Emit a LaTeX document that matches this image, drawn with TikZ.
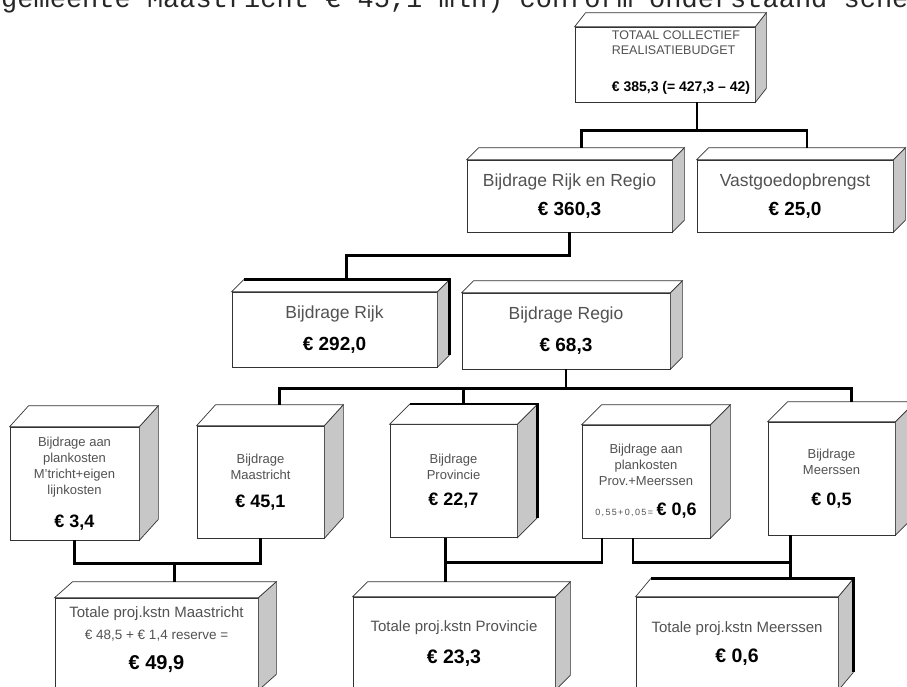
\documentclass[tikz,border=0pt]{standalone}
\usepackage{fontspec}
\setmainfont{Liberation Sans}
\newfontfamily\typemachine{Liberation Mono}
\usetikzlibrary{calc}

\definecolor{zijvlak}{gray}{0.78}
\definecolor{tekstgrijs}{gray}{0.32}

\tikzset{
    rand/.style={draw=black!80, line width=0.7pt},
    blok/.style={rand, fill=white, inner sep=0pt, align=center, text=tekstgrijs},
    rij1/.style={blok, font=\fontsize{17.5}{20}\selectfont},
    rij2/.style={blok, font=\fontsize{13}{16}\selectfont},
    rij3/.style={blok, font=\fontsize{15}{18}\selectfont},
    lijn/.style={line width=2.6pt, black}
}

\newcommand{\waarde}[2][19]{{\color{black}\fontsize{#1}{#1}\selectfont\bfseries #2}}

% top and side face of a box, plus the middle of its back edge
\newcommand{\kubus}[3]{%
    \draw[rand, fill=zijvlak] (#1.north east) -- ++(#2,#3) -- ($(#1.south east)+(#2,#3)$) -- (#1.south east) -- cycle;
    \draw[rand, fill=white] (#1.north west) -- ++(#2,#3) -- ($(#1.north east)+(#2,#3)$) -- (#1.north east) -- cycle;
    \coordinate (#1-top) at ($(#1.north)+(#2,#3)$);
}
\newcommand{\dikrand}[3]{%
    \draw[lijn] ($(#1.north west)+(#2,#3)$) -- ($(#1.north east)+(#2,#3)$) -- ($(#1.south east)+(#2,#3)$);
}

\begin{document}
\begin{tikzpicture}[x=1pt, y=-1pt]
    \useasboundingbox (0,0) rectangle (907,686);

    \node[anchor=base west, inner sep=0pt, font=\typemachine\fontsize{27}{30}\selectfont, text=black!85] (kop) at (1,7) {gemeente Maastricht € 45,1 mln) conform onderstaand sche};

    \node[blok, minimum width=180pt, minimum height=75pt] (totaal) at (665,64.5) {};
    \kubus{totaal}{11}{-14}
    \node[anchor=north west, align=left, inner sep=0pt, text=tekstgrijs, font=\fontsize{12.5}{15}\selectfont] (totaaltekst) at ($(totaal.north west)+(37,4)$) {TOTAAL COLLECTIEF\\REALISATIEBUDGET\\[22pt]\waarde[14]{€ 385,3 (= 427,3 – 42)}};

    \node[rij1, minimum width=205pt, minimum height=72pt] (rijkregio) at (569.5,196) {Bijdrage Rijk en Regio\\[9pt]\waarde{€ 360,3}};
    \kubus{rijkregio}{12}{-12}
    \node[rij1, minimum width=196pt, minimum height=72pt] (vastgoed) at (795,196) {Vastgoedopbrengst\\[9pt]\waarde{€ 25,0}};
    \kubus{vastgoed}{12}{-12}

    \node[rij1, minimum width=205pt, minimum height=75pt] (rijk) at (334.5,329.5) {Bijdrage Rijk\\[12pt]\waarde{€ 292,0}};
    \kubus{rijk}{12}{-12}
    \node[rij1, minimum width=208pt, minimum height=76pt] (regio) at (566,331) {Bijdrage Regio\\[12pt]\waarde{€ 68,3}};
    \kubus{regio}{12}{-12}

    \node[rij2, minimum width=129pt, minimum height=113pt] (plankM) at (74.5,483.5) {Bijdrage aan\\plankosten\\M'tricht+eigen\\lijnkosten\\[17pt]\waarde[18]{€ 3,4}};
    \kubus{plankM}{19}{-21}
    \node[rij2, minimum width=127pt, minimum height=112pt] (maastricht) at (260.5,482) {Bijdrage\\Maastricht\\[12pt]\waarde[18]{€ 45,1}};
    \kubus{maastricht}{19}{-21}
    \node[rij2, minimum width=127pt, minimum height=113pt] (provincie) at (453.5,481) {Bijdrage\\Provincie\\[10pt]\waarde[18]{€ 22,7}};
    \kubus{provincie}{20}{-20}
    \node[rij2, minimum width=128pt, minimum height=113pt] (plankP) at (646,481.5) {Bijdrage aan\\plankosten\\Prov.+Meerssen\\[14pt]{\fontsize{9}{10}\selectfont\addfontfeature{LetterSpace=15}0,55+0,05=} \waarde[18]{€ 0,6}};
    \kubus{plankP}{20}{-20}
    \node[rij2, minimum width=127pt, minimum height=113pt] (meerssen) at (831.5,478.5) {Bijdrage\\Meerssen\\[15pt]\waarde[18]{€ 0,5}};
    \kubus{meerssen}{20}{-20}

    \node[rij3, minimum width=203pt, minimum height=92pt] (totmaastricht) at (156.5,644) {Totale proj.kstn Maastricht\\[4pt]{\fontsize{13.5}{15}\selectfont € 48,5 + € 1,4 reserve =}\\[12pt]\waarde[20]{€ 49,9}\\[-6pt]\mbox{}};
    \kubus{totmaastricht}{18}{-16}
    \node[rij3, minimum width=202pt, minimum height=93pt] (totprovincie) at (454,643.5) {Totale proj.kstn Provincie\\[14pt]\waarde[19.5]{€ 23,3}};
    \kubus{totprovincie}{15}{-15}
    \node[rij3, minimum width=202pt, minimum height=93pt] (totmeerssen) at (737,643.5) {Totale proj.kstn Meerssen\\[12pt]\waarde[19.5]{€ 0,6}};
    \kubus{totmeerssen}{15}{-18}

    % verbindingen
    \draw[lijn] ($(totaal.south)+(32,0)$) -- ++(0,28) coordinate (t1);
    \draw[lijn] (rijkregio-top) |- (t1) -| (vastgoed-top);

    \draw[lijn] (rijkregio.south) -- ++(0,23) -| (rijk-top);
    \dikrand{rijk}{12}{-12}

    \draw[lijn] (regio.south) -- ++(0,19) coordinate (r1);
    \draw[lijn] (maastricht-top) |- (r1) -| (meerssen-top);
    \coordinate (p0) at ($(provincie-top)+(-10,0)$);
    \draw[lijn] (p0) -- (p0 |- r1);
    \dikrand{provincie}{20}{-20}

    \draw[lijn] (plankM.south) -- ++(0,23) coordinate (m1) -| (maastricht.south);
    \draw[lijn] (totmaastricht-top) -- (totmaastricht-top |- m1);
    \coordinate (p1) at ($(provincie.south)+(-8,0)$);
    \draw[lijn] (p1) -- (p1 |- totprovincie-top);
    \draw[lijn] ($(plankP.south)+(-44,0)$) -- ++(0,24) -| (p1);
    \coordinate (s1) at ($(meerssen.south)+(-41,0)$);
    \draw[lijn] ($(plankP.south)+(-13,0)$) -- ++(0,24) -| (s1);
    \draw[lijn] (s1) -- (s1 |- totmeerssen-top);
    \dikrand{totmeerssen}{15}{-18}
\end{tikzpicture}
\end{document}
